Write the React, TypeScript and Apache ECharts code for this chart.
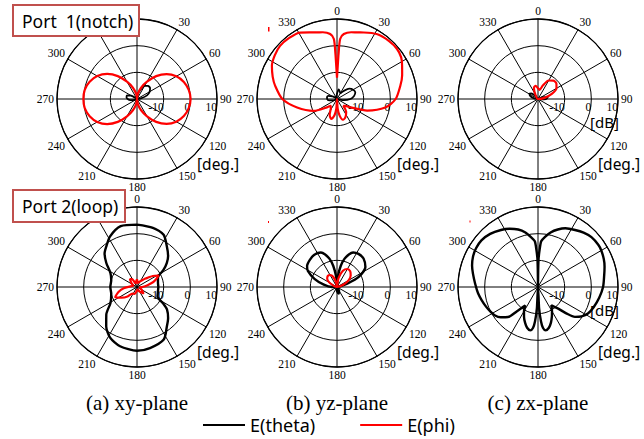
import React, { useEffect, useRef } from "react";
import * as echarts from "echarts";

// ---------- data: [angle (deg, clockwise from top), level (dB)] ----------
const RADIUS_MIN = -20;
const RADIUS_MAX = 10;
const RADIUS_STEP = 10;
const ANGLE_STEP = 30;

const seriesNames = ["E(theta)", "E(phi)"];
const captions = ["(a) xy-plane", "(b) yz-plane", "(c) zx-plane"];
const portLabels = ["Port  1(notch)", "Port 2(loop)"];
const unitDeg = "[deg.]";
const unitDb = "[dB]";
// angle labels covered by the port boxes in the original figure
const hiddenAngleLabels: number[][] = [[0, 330], [], [], [330], [], []];

// Port 1 (notch)
const xyPort1Theta: [number, number][] = [
  [0, -20], [10, -18], [20, -16.5], [30, -14.3], [40, -13.6], [50, -13.6], [60, -14.5], [70, -16],
  [80, -18.5], [90, -20], [180, -20], [240, -20], [250, -19], [260, -17.5], [270, -16.5], [280, -16],
  [290, -16], [300, -17.5], [310, -19.5], [320, -20], [360, -20],
];
const xyPort1Phi: [number, number][] = [
  [0, -20], [10, -18], [20, -15.5], [30, -12.5], [40, -8.8], [50, -5.5], [60, -3], [70, -1.3],
  [80, -0.3], [90, 0.1], [100, -0.3], [110, -1.3], [120, -3], [130, -5.5], [140, -8.8], [150, -12.5],
  [160, -15.5], [170, -18], [180, -20], [190, -18], [200, -15.5], [210, -12.5], [220, -8.8],
  [230, -5.4], [240, -2.8], [250, -1.1], [260, -0.1], [270, 0.1], [280, -0.1], [290, -1.1],
  [300, -2.8], [310, -5.4], [320, -8.8], [330, -12.5], [340, -15.5], [350, -18], [360, -20],
];
const yzPort1Theta: [number, number][] = [
  [0, -18], [10, -16.3], [20, -17], [30, -17.5], [40, -16], [50, -14], [60, -13], [70, -12.7],
  [80, -13.5], [90, -15], [100, -17.5], [110, -20], [240, -20], [250, -18.5], [260, -17],
  [270, -16.3], [280, -16.2], [290, -16.5], [300, -18], [310, -19], [320, -20], [340, -20],
  [350, -19], [360, -18],
];
const yzPort1Phi: [number, number][] = [
  [0, -12], [1, -9], [2, -3], [3, 2.5], [6, 4.5], [12, 5.6], [17, 6.1], [22, 6.9], [32, 8.6],
  [42, 9.2], [50, 9.3], [57, 8.7], [63, 7.4], [70, 6], [78, 4.3], [90, 2], [100, -1.6], [111, -7.9],
  [122, -14.1], [130, -16], [137, -16.5], [145, -14], [155, -12.5], [164, -11.9], [171, -13.7],
  [176, -16.5], [180, -20], [184, -16.5], [189, -13.7], [196, -12.2], [205, -13.5], [215, -16],
  [223, -16.5], [230, -15.1], [243, -10.2], [258, -4.7], [270, 0.5], [282, 3.7], [289, 5.5],
  [297, 7.4], [305, 8.5], [313, 9.2], [322, 9.1], [331, 8.5], [343, 6.1], [348, 5.6], [354, 4.5],
  [357, 2.5], [358, -3], [359, -9], [360, -12],
];
const zxPort1Theta: [number, number][] = [
  [0, -20], [60, -20], [70, -18], [80, -16.3], [90, -17], [100, -19.5], [110, -20], [270, -20],
  [280, -18.5], [290, -17], [300, -16.3], [310, -16.8], [320, -18.5], [330, -20], [360, -20],
];
const zxPort1Phi: [number, number][] = [
  [0, -16], [10, -16.5], [20, -14.5], [30, -12], [40, -11], [50, -11], [60, -12], [70, -14.5],
  [80, -17.5], [90, -20], [320, -20], [330, -18], [340, -15.5], [350, -15], [360, -16],
];

// Port 2 (loop)
const xyPort2Theta: [number, number][] = [
  [0, 3.4], [15, 3.0], [27, 2.0], [36, -1], [45, -3.5], [51, -5.6], [57, -8.1], [66, -11.4],
  [80, -12], [90, -12], [100, -12], [115, -11.5], [122, -8.5], [127, -5.9], [135, -3.5],
  [143, -1.4], [153, 2.1], [168, 3.4], [180, 3.9], [196, 3.1], [208, 1.5], [218, -1.25],
  [228, -4.5], [239, -8.4], [255, -10], [270, -10], [285, -10], [298, -8.7], [308, -5.4],
  [316, -2.5], [323, -0.9], [332, 1.5], [345, 3.6], [360, 3.4],
];
const xyPort2Phi: [number, number][] = [
  [0, -17], [10, -18.5], [20, -18], [30, -17.5], [40, -16.5], [45, -15.5], [50, -14.5], [55, -12.8],
  [62, -10.8], [68, -12.3], [73, -13.6], [80, -16], [90, -18], [100, -19], [120, -18], [135, -16.5],
  [150, -18], [170, -19], [190, -18], [200, -17.2], [215, -17], [225, -15], [235, -13], [245, -11],
  [255, -12.8], [265, -15], [275, -17.5], [290, -18.5], [305, -17.5], [318, -16], [328, -16.5],
  [340, -18.5], [350, -18], [360, -17],
];
const yzPort2Theta: [number, number][] = [
  [0, -20], [5, -16], [10, -12], [15, -9], [20, -7], [25, -5.7], [33, -5.2], [43, -5.4], [55, -7],
  [65, -11], [72, -16], [80, -19], [90, -20], [140, -20], [150, -18.5], [165, -17.5], [180, -18.5],
  [195, -19.5], [210, -20], [260, -20], [270, -18], [280, -15], [290, -11], [299, -7.5],
  [305, -6.3], [315, -5.6], [325, -5.2], [335, -5.7], [340, -7], [345, -9], [350, -12], [355, -16],
  [360, -20],
];
const yzPort2Phi: [number, number][] = [
  [0, -20], [10, -16.5], [20, -13.5], [30, -12.2], [40, -12.3], [50, -13.3], [60, -15], [70, -17.5],
  [80, -20], [290, -20], [300, -16.8], [310, -15.2], [320, -14.6], [330, -14.8], [340, -16],
  [350, -18.5], [360, -20],
];
const zxPort2Theta: [number, number][] = [
  [0, -20], [1, -10], [2.5, -6], [4, -2.8], [8, -1], [13, 1], [19, 2.8], [25, 4.3], [33, 5.5],
  [40, 6.6], [47, 7.4], [55, 7.6], [60, 7.4], [67, 6.8], [73, 6.1], [80, 5.2], [90, 4.4],
  [100, 3.3], [110, 2.2], [118, 1.2], [124, -0.3], [129, -2.2], [133, -5.5], [137, -8.9],
  [141, -10.5], [144, -11.5], [150, -9.5], [155, -7.7], [160, -5.8], [165, -4.2], [170, -3.5],
  [173, -4.5], [175, -7], [177, -12], [180, -20], [183, -12], [185, -7], [187, -4.5], [190, -3.5],
  [195, -4.2], [200, -5.8], [205, -7.6], [210, -9.5], [214.6, -11.6], [218, -10], [221, -8],
  [225, -4.1], [231, -2], [237, -0.6], [243, 0.1], [249, 0.8], [257, 1.7], [264, 2.6], [273, 3.6],
  [281.6, 4.9], [288, 6], [295, 6.9], [302, 7.4], [309.5, 7.5], [318, 6.8], [327, 5.5],
  [334, 4.3], [341, 2.8], [347, 1], [352, -1.1], [356, -2.8], [357.5, -6], [359, -10], [360, -20],
];
const zxPort2Phi: [number, number][] = [];

// ---------- layout ----------
const PLOTS = [
  { center: [137, 99], theta: xyPort1Theta, phi: xyPort1Phi, db: false },
  { center: [337, 99], theta: yzPort1Theta, phi: yzPort1Phi, db: false },
  { center: [538, 99], theta: zxPort1Theta, phi: zxPort1Phi, db: true },
  { center: [137, 287], theta: xyPort2Theta, phi: xyPort2Phi, db: false },
  { center: [337, 287], theta: yzPort2Theta, phi: yzPort2Phi, db: false },
  { center: [538, 287], theta: zxPort2Theta, phi: zxPort2Phi, db: true },
];
const RADIUS = 80;
const SERIF = "Liberation Serif";
const SANS = "Noto Sans";

export default function App() {
  const ref = useRef<HTMLDivElement>(null);
  useEffect(() => {
    if (!ref.current) return;
    const chart = echarts.init(ref.current, undefined, { renderer: "svg" });
    const polar: any[] = [];
    const angleAxis: any[] = [];
    const radiusAxis: any[] = [];
    const series: any[] = [];
    const graphic: any[] = [];

    PLOTS.forEach((p, i) => {
      polar.push({ center: p.center, radius: RADIUS });
      const hidden = hiddenAngleLabels[i];
      angleAxis.push({
        polarIndex: i, type: "value", min: 0, max: 360, interval: ANGLE_STEP,
        startAngle: 90, clockwise: true,
        axisLine: { lineStyle: { color: "#000", width: 1.3 } },
        axisTick: { show: false },
        splitLine: { show: true, lineStyle: { color: "#000", width: 1 } },
        axisLabel: {
          margin: 3, color: "#000", fontFamily: SERIF, fontSize: 11.5, lineHeight: 10,
          formatter: (v: number) => (hidden.indexOf(v) >= 0 ? "" : String(v)),
        },
      });
      radiusAxis.push({
        polarIndex: i, type: "value", min: RADIUS_MIN, max: RADIUS_MAX, interval: RADIUS_STEP,
        axisLine: { show: false }, axisTick: { show: false }, axisLabel: { show: false },
        splitLine: { show: true, lineStyle: { color: "#000", width: 1 } },
      });
      const mk = (data: [number, number][], name: string, color: string, width: number) => ({
        type: "line", name, coordinateSystem: "polar", polarIndex: i,
        data: data.map(([a, d]) => [d, a]),
        showSymbol: false, symbol: "none", smooth: 0.25,
        itemStyle: { color }, lineStyle: { color, width },
        z: 5,
      });
      series.push(mk(p.theta, seriesNames[0], "#000", i < 3 ? 1.8 : 2.4));
      series.push(mk(p.phi, seriesNames[1], "#ff0000", 2.2));

      const [cx, cy] = p.center;
      graphic.push({
        type: "text", x: cx + 60, y: cy + 65, z: 10,
        style: { text: unitDeg, fontFamily: SANS, fontSize: 15.5, fill: "#000", verticalAlign: "middle" },
      });
      if (p.db) {
        graphic.push({
          type: "text", x: cx + 52, y: cy + 23, z: 10,
          style: { text: unitDb, fontFamily: SANS, fontSize: 15, lineHeight: 15, fill: "#000", verticalAlign: "middle" },
        });
      }
    });
    // overlay polars carrying the radial tick labels along the 90-degree spoke
    PLOTS.forEach((p, i) => {
      const idx = PLOTS.length + i;
      polar.push({ center: p.center, radius: RADIUS });
      angleAxis.push({ polarIndex: idx, type: "value", min: 0, max: 360, startAngle: 0, show: false });
      radiusAxis.push({
        polarIndex: idx, type: "value", min: RADIUS_MIN, max: RADIUS_MAX, interval: RADIUS_STEP,
        axisLine: { show: false }, axisTick: { show: false }, splitLine: { show: false },
        axisLabel: {
          show: true, margin: -3, align: "right", verticalAlign: "top",
          color: "#000", fontFamily: SERIF, fontSize: 11.5, lineHeight: 10,
          formatter: (v: number) => (v === RADIUS_MIN ? "" : String(v)),
        },
      });
    });

    captions.forEach((c, k) => {
      graphic.push({
        type: "text", x: PLOTS[k].center[0], y: 403, z: 10,
        style: { text: c, fontFamily: SERIF, fontSize: 21, fill: "#000", align: "center", verticalAlign: "middle" },
      });
    });
    const boxes = [
      { x: 13, y: 5, w: 126, h: 31 },
      { x: 13, y: 190, w: 112, h: 32 },
    ];
    portLabels.forEach((t, k) => {
      const b = boxes[k];
      graphic.push({
        type: "rect", z: 20, shape: { x: b.x, y: b.y, width: b.w, height: b.h },
        style: { fill: "#fff", stroke: "#c0504d", lineWidth: 2 },
      });
      graphic.push({
        type: "text", z: 21, x: b.x + 9, y: b.y + b.h / 2,
        style: { text: t, fontFamily: SANS, fontSize: 17.5, fill: "#000", verticalAlign: "middle" },
      });
    });
    // small stray red marks of the original figure
    graphic.push({ type: "rect", z: 10, shape: { x: 268, y: 27, width: 1.5, height: 4.5 }, style: { fill: "#ff0000" } });
    graphic.push({ type: "rect", z: 10, shape: { x: 268, y: 221, width: 1, height: 2 }, style: { fill: "#ff0000" } });
    graphic.push({ type: "rect", z: 10, shape: { x: 469.5, y: 220.5, width: 1, height: 2 }, style: { fill: "#ff0000" } });

    chart.setOption({
      animation: false,
      backgroundColor: "#fff",
      polar, angleAxis, radiusAxis, series, graphic,
      legend: {
        data: seriesNames, left: 198, top: 411, icon: "rect", itemWidth: 42, itemHeight: 2,
        itemGap: 45, textStyle: { fontFamily: SANS, fontSize: 18, color: "#000" },
      },
    });
    return () => chart.dispose();
  }, []);
  return <div ref={ref} style={{ position: "fixed", left: 0, top: 0, width: 644, height: 439, background: "#fff" }} />;
}
